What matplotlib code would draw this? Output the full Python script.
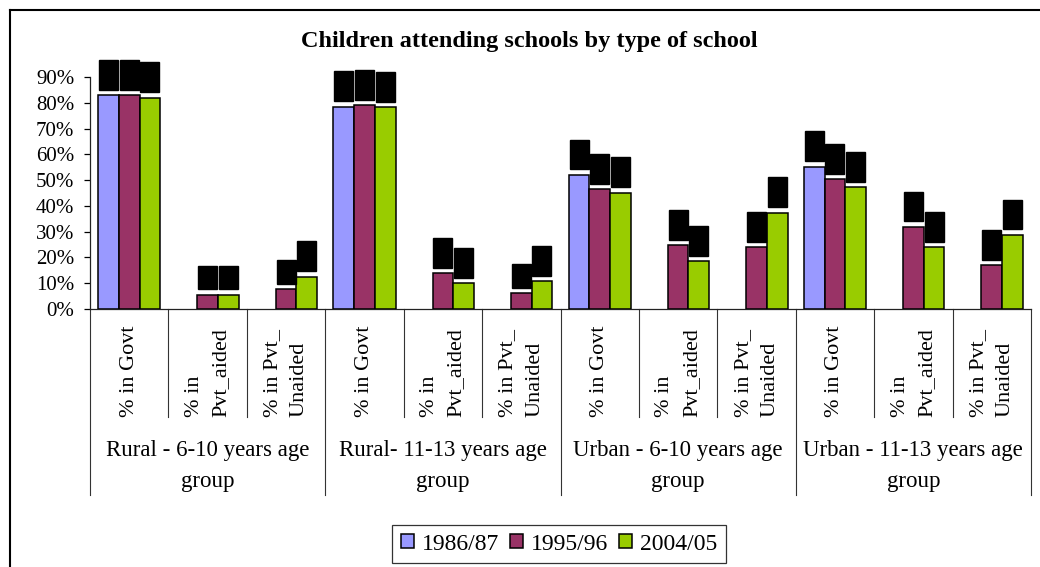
import numpy as np
import matplotlib
matplotlib.use("Agg")
import matplotlib.pyplot as plt
from matplotlib.lines import Line2D

plt.rcParams['font.family'] = ['Liberation Serif', 'DejaVu Serif']

# ---- data ----
categories = ["% in Govt", "% in\nPvt_aided", "% in Pvt_\nUnaided"] * 4
groups = ["Rural - 6-10 years age\ngroup", "Rural- 11-13 years age\ngroup",
          "Urban - 6-10 years age\ngroup", "Urban - 11-13 years age\ngroup"]
series_names = ["1986/87", "1995/96", "2004/05"]
y1986 = [83.0, np.nan, np.nan, 78.4, np.nan, np.nan, 52.0, np.nan, np.nan, 55.2, np.nan, np.nan]
y1995 = [83.0, 5.5, 7.7, 79.0, 13.8, 6.1, 46.4, 24.8, 23.9, 50.4, 31.8, 17.0]
y2004 = [82.0, 5.5, 12.5, 78.3, 10.0, 10.8, 45.1, 18.5, 37.3, 47.3, 24.0, 28.7]
yticks = [0, 10, 20, 30, 40, 50, 60, 70, 80, 90]

colors = ["#9999FF", "#993366", "#99CC00"]

W, H = 1040, 567
fig = plt.figure(figsize=(W / 100, H / 100), dpi=100)
fig.patch.set_facecolor("white")

# axes box in pixels: x 90..1031, y 77..309
ax = fig.add_axes([90 / W, (H - 309) / H, (1031 - 90) / W, (309 - 77) / H])

n = len(categories)
x = np.arange(n)
bw = 0.264
for i, (vals, c, name) in enumerate(zip([y1986, y1995, y2004], colors, series_names)):
    pos = x + (i - 1) * bw
    ax.bar(pos, vals, width=bw, color=c, edgecolor="black", linewidth=1.1,
           label=name, zorder=3)
    for px, v in zip(pos, vals):
        if np.isnan(v):
            continue
        ax.annotate(f"{v:.0f}%", xy=(px, v), xytext=(0, 6.5), textcoords="offset points",
                    rotation=90, ha="center", va="bottom", fontsize=9, color="black",
                    bbox=dict(boxstyle="square,pad=0.28", fc="black", ec="black"),
                    annotation_clip=False, zorder=4)

ax.set_xlim(-0.5, n - 0.5)
ax.set_ylim(0, 90)
ax.set_yticks(yticks)
ax.set_yticklabels([f"{t}%" for t in yticks], fontsize=15)
ax.tick_params(axis="y", direction="out", length=4.3, width=0.9, pad=7, colors="black")
ax.set_xticks([])
for s in ["top", "right"]:
    ax.spines[s].set_visible(False)
ax.spines["left"].set_linewidth(0.9)
ax.spines["bottom"].set_linewidth(0.9)
ax.spines["left"].set_color("#222222")
ax.spines["bottom"].set_color("#222222")

# category separators and labels below the axis
xt = ax.get_xaxis_transform()
y_cat = (309 - 417) / 232
y_grp = (309 - 495) / 232
for k in range(n + 1):
    bottom = y_grp if k % 3 == 0 else y_cat
    ax.plot([k - 0.5, k - 0.5], [0, bottom], transform=xt, color="#333333",
            lw=0.8, clip_on=False)
for k, lab in enumerate(categories):
    ax.text(k, y_cat, lab, transform=xt, rotation=90, ha="center", va="bottom",
            multialignment="left", fontsize=16, linespacing=1.55)
y_glab = (309 - 466) / 232
for g, lab in enumerate(groups):
    ax.text(3 * g + 1, y_glab, lab, transform=xt, ha="center", va="center",
            multialignment="center", fontsize=16.5, linespacing=1.6)

fig.text(529 / W, 1 - 42 / H, "Children attending schools by type of school",
         ha="center", va="center", fontsize=17.5, fontweight="bold")

leg = fig.legend(loc="center", bbox_to_anchor=(559 / W, 1 - 544 / H), ncol=3,
                 fontsize=17, frameon=True, fancybox=False, edgecolor="black",
                 handlelength=0.55, handleheight=0.55, handletextpad=0.35,
                 columnspacing=0.45, borderpad=0.35, borderaxespad=0)
leg.get_frame().set_linewidth(0.9)

# outer chart border
fig.add_artist(Line2D([9.5 / W, 9.5 / W], [0, 1 - 9.5 / H], transform=fig.transFigure,
                      color="black", lw=1.5))
fig.add_artist(Line2D([9.5 / W, 1], [1 - 9.5 / H, 1 - 9.5 / H], transform=fig.transFigure,
                      color="black", lw=1.5))

fig.savefig("out.png", dpi=100)
